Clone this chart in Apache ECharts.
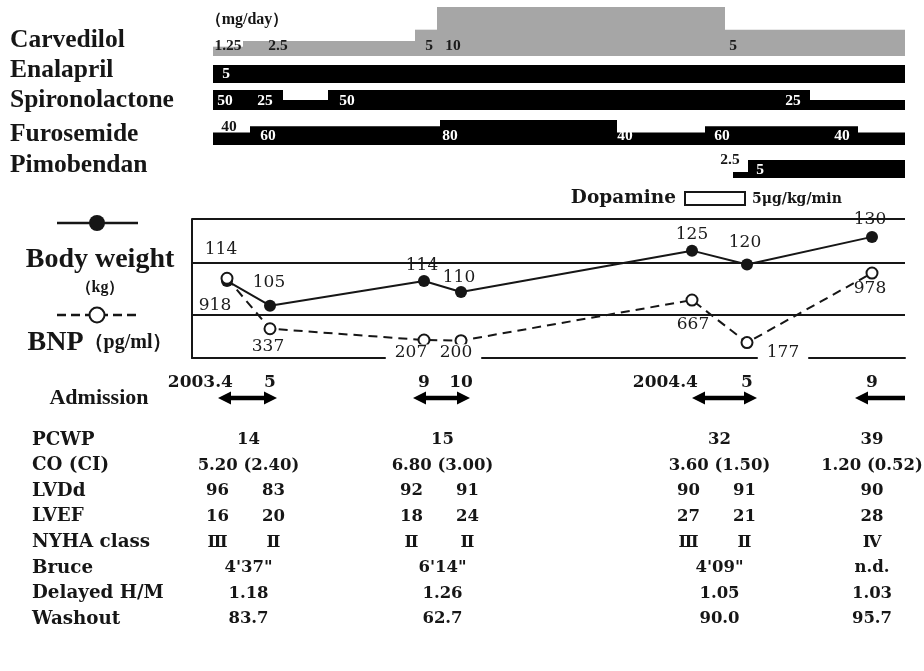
<!DOCTYPE html>
<html><head><meta charset="utf-8">
<script src="https://cdn.jsdelivr.net/npm/echarts@6/dist/echarts.min.js"></script>
<style>html,body{margin:0;padding:0;background:#fff}#c{width:924px;height:671px}</style>
</head><body><div id="c"></div>
<script>
// ================= DATA =================
// schematic (not-to-scale) timeline position of each visit, as drawn in the figure
const dates = ['2003.4', '5', '9', '10', '2004.4', '5', '9'];
const datePos = [35, 78, 232, 269, 500, 555, 680];
const bodyWeight = [114, 105, 114, 110, 125, 120, 130];      // kg
const bnp = [918, 337, 207, 200, 667, 177, 978];               // pg/ml

// drug regimens: [from, to, dose mg/day] on the same timeline
const drugNames = ['Carvedilol', 'Enalapril', 'Spironolactone', 'Furosemide', 'Pimobendan'];
const carvedilol = [[21, 51, 1.25], [51, 223, 2.5], [223, 245, 5], [245, 533, 10], [533, 713, 5]];
const enalapril = [[21, 713, 5]];
const spironolactone = [[21, 91, 50], [91, 136, 25], [136, 618, 50], [618, 713, 25]];
const furosemide = [[21, 58, 40], [58, 248, 60], [248, 425, 80], [425, 513, 40], [513, 666, 60], [666, 713, 40]];
const pimobendan = [[541, 556, 2.5], [556, 713, 5]];
// dose annotations: [timeline position, text]
const carvedilolLabels = [[36, '1.25'], [86, '2.5'], [237, '5'], [261, '10'], [541, '5']];
const enalaprilLabels = [[34, '5']];
const spironolactoneLabels = [[33, '50'], [73, '25'], [155, '50'], [601, '25']];
const furosemideLabels = [[37, '40'], [76, '60'], [258, '80'], [433, '40'], [530, '60'], [650, '40']];
const pimobendanLabels = [[538, '2.5'], [568, '5']];

// admissions: [from, to] (null = still admitted)
const admissions = [[26, 85], [221, 278], [500, 565], [663, null]];
const admissionVisits = [[0, 1], [2, 3], [4, 5], [6]];

// examination table
const tableRows = ['PCWP', 'CO (CI)', 'LVDd', 'LVEF', 'NYHA class', 'Bruce', 'Delayed H/M', 'Washout'];
const pcwp = ['14', '15', '32', '39'];
const coCi = ['5.20 (2.40)', '6.80 (3.00)', '3.60 (1.50)', '1.20 (0.52)'];
const lvdd = ['96', '83', '92', '91', '90', '91', '90'];
const lvef = ['16', '20', '18', '24', '27', '21', '28'];
const nyha = ['Ⅲ', 'Ⅱ', 'Ⅱ', 'Ⅱ', 'Ⅲ', 'Ⅱ', 'Ⅳ'];
const bruce = ["4'37\"", "6'14\"", "4'09\"", 'n.d.'];
const delayedHM = ['1.18', '1.26', '1.05', '1.03'];
const washout = ['83.7', '62.7', '90.0', '95.7'];

// ================= STYLE / LAYOUT =================
const X_MIN = 0, X_MAX = 713;
const TIMES = '"Liberation Serif", "Times New Roman", serif';
const CENT = '"DejaVu Serif", serif';
const INK = '#161616';
const drugLayout = [
  { base: 56, top: 7, min: -0.8, max: 10, fill: '#a6a6a6', text: '#1a1a1a', raise: 10, nameY: 40 },
  { base: 83, top: 65, min: 0, max: 5, fill: '#000', text: '#fff', raise: 9, nameY: 70 },
  { base: 110, top: 90, min: 0, max: 50, fill: '#000', text: '#fff', raise: 9, nameY: 100 },
  { base: 145, top: 120, min: 0, max: 80, fill: '#000', text: '#fff', raise: 9, nameY: 134 },
  { base: 178, top: 160, min: 1.25, max: 5, fill: '#000', text: '#fff', raise: 8, nameY: 165 }
];
const aboveLabel = { 3: [0], 4: [0] };
const weightLabelOffset = [[-6, -31], [-1, -23], [-2, -15], [-2, -14], [0, -16], [-2, -22], [-2, -17]];
const bnpLabelOffset = [[-12, 27], [-2, 18], [-13, 13], [-5, 12], [1, 25], [36, 10], [-2, 16]];
const weightLabelMask = [false, false, false, false, false, false, true];
const bnpLabelMask = [false, false, true, true, false, true, false];

const drugData = [carvedilol, enalapril, spironolactone, furosemide, pimobendan];
const drugLabelData = [carvedilolLabels, enalaprilLabels, spironolactoneLabels, furosemideLabels, pimobendanLabels];

// table placement derived from visits
const admissionMid = admissionVisits.map(v => v.reduce((s, i) => s + datePos[i], 0) / v.length);
function visitColumn(i) {
  const k = admissionVisits.findIndex(v => v.includes(i));
  const v = admissionVisits[k];
  if (v.length === 1) return admissionMid[k];
  return admissionMid[k] + (v[0] === i ? -31 : 25);
}
const tableCells = [];
[[0, pcwp], [1, coCi], [5, bruce], [6, delayedHM], [7, washout]].forEach(([r, arr]) =>
  arr.forEach((t, k) => tableCells.push([admissionMid[k], r, t])));
[[2, lvdd], [3, lvef], [4, nyha]].forEach(([r, arr]) =>
  arr.forEach((t, i) => tableCells.push([visitColumn(i), r, t])));

// date tick labels: month digit centred on the visit, year prefix hanging to the left
const DATE_FONT = 'bold 17px ' + CENT;
const GRID_W = 924 - 192 - 19;
const mctx = document.createElement('canvas').getContext('2d');
mctx.font = DATE_FONT;
const dateLabelPos = dates.map((t, i) => {
  const k = t.lastIndexOf('.');
  if (k < 0) return datePos[i];
  const shiftPx = mctx.measureText(t.slice(0, k + 1)).width / 2;
  return datePos[i] - shiftPx * (X_MAX - X_MIN) / GRID_W;
});

// ================= OPTION =================
const grids = [{ left: 192, right: 19, top: 219, height: 139 }];
drugLayout.forEach(L => grids.push({ left: 192, right: 19, top: L.top, height: L.base - L.top }));
grids.push({ left: 192, right: 19, top: 388, height: 20 });   // admission
grids.push({ left: 192, right: 19, top: 427, height: 205 });  // table

const xAxes = grids.map((g, i) => ({
  type: 'value', gridIndex: i, min: X_MIN, max: X_MAX, show: i === 0,
  splitLine: { show: false }, axisTick: { show: false },
  axisLine: { show: i === 0, onZero: false, lineStyle: { color: INK, width: 2 } },
  axisLabel: i === 0 ? {
    customValues: dateLabelPos, margin: 16, color: INK, showMinLabel: true, showMaxLabel: true, hideOverlap: false,
    fontFamily: CENT, fontWeight: 'bold', fontSize: 17,
    formatter: v => {
      let best = 0;
      dateLabelPos.forEach((p, i) => { if (Math.abs(p - v) < Math.abs(dateLabelPos[best] - v)) best = i; });
      return dates[best];
    }
  } : { show: false }
}));

const yAxes = [
  { type: 'value', gridIndex: 0, min: 86, max: 136.5, axisLine: { show: true, onZero: false, lineStyle: { color: INK, width: 2 } },
    axisTick: { show: false }, axisLabel: { show: false }, splitLine: { show: false } },
  { type: 'value', gridIndex: 0, min: 0, max: 1600, show: false, splitLine: { show: false } }
];
drugLayout.forEach((L, i) => yAxes.push({ type: 'value', gridIndex: i + 1, min: L.min, max: L.max, show: false, splitLine: { show: false } }));
yAxes.push({ type: 'category', gridIndex: 6, data: ['Admission'], axisLine: { show: false }, axisTick: { show: false },
  axisLabel: { align: 'center', margin: 93, color: INK, fontFamily: TIMES, fontWeight: 'bold', fontSize: 22 } });
yAxes.push({ type: 'category', gridIndex: 7, data: tableRows, inverse: true, axisLine: { show: false }, axisTick: { show: false },
  axisLabel: { align: 'left', margin: 160, color: INK, fontFamily: CENT, fontWeight: 'bold', fontSize: 18.3 } });

const series = [];
// horizontal reference lines of the graph box
series.push({ type: 'line', xAxisIndex: 0, yAxisIndex: 1, data: [], z: 1, silent: true,
  markLine: { silent: true, symbol: ['none', 'none'], label: { show: false },
    lineStyle: { color: INK, width: 2, type: 'solid' }, emphasis: { disabled: true },
    data: [{ yAxis: 500 }, { yAxis: 1100 }, { yAxis: 1600 }] } });

const numLabel = { fontFamily: CENT, fontSize: 17, color: '#1c1c1c' };
series.push({
  type: 'line', name: 'Body weight', xAxisIndex: 0, yAxisIndex: 0, z: 3,
  symbol: 'circle', symbolSize: 12, itemStyle: { color: INK }, lineStyle: { color: INK, width: 2 },
  data: datePos.map((x, i) => ({
    value: [x, bodyWeight[i]],
    label: Object.assign({ show: true, position: 'inside', offset: weightLabelOffset[i], formatter: String(bodyWeight[i]) }, numLabel,
      weightLabelMask[i] ? { backgroundColor: '#fff', padding: [1, 10] } : {})
  }))
});
series.push({
  type: 'line', name: 'BNP', xAxisIndex: 0, yAxisIndex: 1, z: 4,
  symbol: 'circle', symbolSize: 11, itemStyle: { color: '#fff', borderColor: INK, borderWidth: 2 },
  lineStyle: { color: INK, width: 2, type: [9, 6] },
  data: datePos.map((x, i) => ({
    value: [x, bnp[i]],
    label: Object.assign({ show: true, position: 'inside', offset: bnpLabelOffset[i], formatter: String(bnp[i]) }, numLabel,
      bnpLabelMask[i] ? { backgroundColor: '#fff', padding: [0, 9] } : {})
  }))
});

drugLayout.forEach((L, di) => {
  series.push({
    type: 'custom', xAxisIndex: di + 1, yAxisIndex: di + 2, z: 2, silent: true,
    data: drugData[di],
    renderItem: (params, api) => {
      const p0 = api.coord([api.value(0), api.value(2)]);
      const p1 = api.coord([api.value(1), L.min]);
      return { type: 'rect', shape: { x: p0[0], y: p0[1], width: p1[0] - p0[0], height: p1[1] - p0[1] }, style: { fill: L.fill } };
    }
  });
  const labs = drugLabelData[di];
  series.push({
    type: 'custom', xAxisIndex: di + 1, yAxisIndex: di + 2, z: 5, silent: true,
    data: labs.map(l => [l[0], L.min]),
    renderItem: (params, api) => {
      const lab = labs[params.dataIndex];
      const p = api.coord([lab[0], L.min]);
      const above = (aboveLabel[di] || []).includes(params.dataIndex);
      return { type: 'text', x: p[0], y: p[1] - (above ? 18 : L.raise),
        style: { text: lab[1], fill: above ? INK : L.text, font: 'bold 15.5px ' + TIMES,
          textAlign: 'center', textVerticalAlign: 'middle', align: 'center', verticalAlign: 'middle' } };
    }
  });
});

// admission arrows
series.push({
  type: 'custom', xAxisIndex: 6, yAxisIndex: 7, silent: true,
  data: admissions.map(a => [a[0], a[1] == null ? X_MAX : a[1], 0]),
  renderItem: (params, api) => {
    const ongoing = admissions[params.dataIndex][1] == null;
    const p0 = api.coord([api.value(0), 0]);
    const p1 = api.coord([api.value(1), 0]);
    const y = p0[1], hl = 13, hw = 6.5;
    const ch = [
      { type: 'line', shape: { x1: p0[0] + hl - 2, y1: y, x2: p1[0] - (ongoing ? 0 : hl - 2), y2: y }, style: { stroke: '#000', lineWidth: 4.5 } },
      { type: 'polygon', shape: { points: [[p0[0], y], [p0[0] + hl, y - hw], [p0[0] + hl, y + hw]] }, style: { fill: '#000' } }
    ];
    if (!ongoing) ch.push({ type: 'polygon', shape: { points: [[p1[0], y], [p1[0] - hl, y - hw], [p1[0] - hl, y + hw]] }, style: { fill: '#000' } });
    return { type: 'group', children: ch };
  }
});

// table values
series.push({
  type: 'custom', xAxisIndex: 7, yAxisIndex: 8, silent: true,
  data: tableCells.map(c => [c[0], c[1]]),
  renderItem: (params, api) => {
    const c = tableCells[params.dataIndex];
    const p = api.coord([c[0], c[1]]);
    return { type: 'text', x: p[0], y: p[1],
      style: { text: c[2], fill: INK, font: 'bold 16.5px ' + CENT,
        textAlign: 'center', textVerticalAlign: 'middle', align: 'center', verticalAlign: 'middle' } };
  }
});

function txt(x, y, text, font, align, extra) {
  return { type: 'text', x, y, silent: true,
    style: Object.assign({ text, font, fill: INK, textAlign: align || 'center', textVerticalAlign: 'middle',
      align: align || 'center', verticalAlign: 'middle' }, extra || {}) };
}
const graphic = [];
drugNames.forEach((n, i) => graphic.push(txt(10, drugLayout[i].nameY, n, 'bold 25.5px ' + TIMES, 'left')));
graphic.push(txt(247, 20, '（mg/day）', 'bold 16px ' + TIMES));
graphic.push(txt(676, 198, 'Dopamine', 'bold 18.5px ' + CENT, 'right'));
graphic.push({ type: 'rect', silent: true, shape: { x: 685, y: 192, width: 60, height: 13 }, style: { fill: '#fff', stroke: INK, lineWidth: 2 } });
graphic.push(txt(752, 199, '5μg/kg/min', 'bold 14px ' + CENT, 'left'));
// left legend
graphic.push({ type: 'line', silent: true, shape: { x1: 57, y1: 223, x2: 138, y2: 223 }, style: { stroke: INK, lineWidth: 2.5 } });
graphic.push({ type: 'circle', silent: true, shape: { cx: 97, cy: 223, r: 8 }, style: { fill: INK } });
graphic.push(txt(100, 260, 'Body weight', 'bold 28px ' + TIMES));
graphic.push(txt(100, 288, '（kg）', 'bold 16px ' + TIMES));
graphic.push({ type: 'line', silent: true, shape: { x1: 57, y1: 315, x2: 138, y2: 315 }, style: { stroke: INK, lineWidth: 2.5, lineDash: [9, 5] } });
graphic.push({ type: 'circle', silent: true, shape: { cx: 97, cy: 315, r: 7.5 }, style: { fill: '#fff', stroke: INK, lineWidth: 2 } });
graphic.push({ type: 'text', x: 100, y: 343, silent: true,
  style: { text: '{a|BNP}{b|（pg/ml）}', textAlign: 'center', textVerticalAlign: 'middle', align: 'center', verticalAlign: 'middle',
    rich: { a: { font: 'bold 28px ' + TIMES, fill: INK, color: INK }, b: { font: 'bold 20px ' + TIMES, fill: INK, color: INK } } } });

const chart = echarts.init(document.getElementById('c'), null, { renderer: 'canvas' });
chart.setOption({
  animation: false,
  backgroundColor: '#fff',
  grid: grids, xAxis: xAxes, yAxis: yAxes, series, graphic
});
</script></body></html>
